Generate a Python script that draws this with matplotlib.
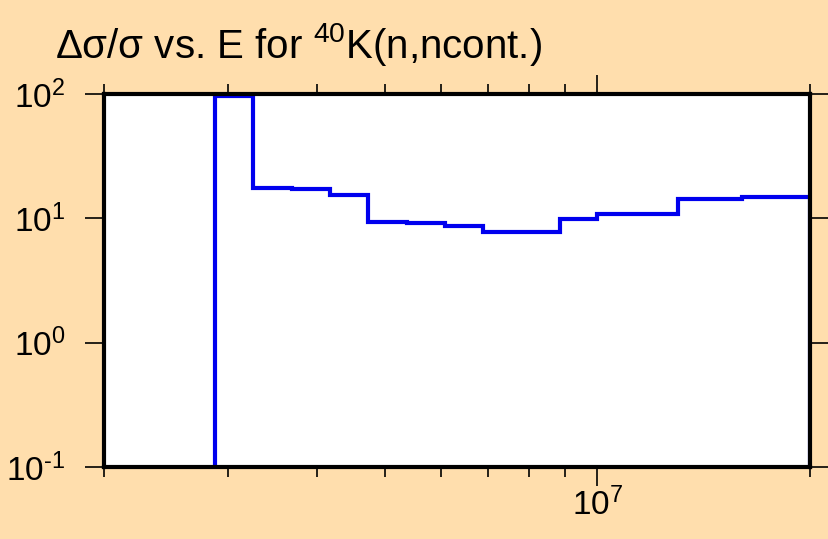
import matplotlib
matplotlib.use("Agg")
import matplotlib.pyplot as plt
import numpy as np
from matplotlib.ticker import LogLocator, NullFormatter, FuncFormatter

plt.rcParams['font.family'] = ['Liberation Sans', 'DejaVu Sans']
plt.rcParams['mathtext.fontset'] = 'custom'
plt.rcParams['mathtext.rm'] = 'Liberation Sans'
plt.rcParams['mathtext.it'] = 'Liberation Sans'

# group boundaries (eV) and relative uncertainty (%)
edges = [2.87e6, 3.25e6, 3.69e6, 4.18e6, 4.73e6, 5.37e6, 6.08e6, 6.89e6,
         7.77e6, 8.85e6, 1.0e7, 1.1e7, 1.2e7, 1.3e7, 1.6e7, 2.0e7]
# first group is off scale (drawn along the top frame)
rel_err = [96.0, 17.5, 17.2, 15.4, 9.3, 9.2, 8.75, 7.8,
           7.8, 9.8, 10.9, 10.9, 10.9, 14.3, 14.8]


def pow10(v, pos):
    e = int(round(np.log10(v)))
    s = str(e).replace('-', r'\text{-}')
    return r'$\mathdefault{10^{%s}}$' % s


bg = '#FFDEAD'
fig = plt.figure(figsize=(8.29, 5.39), dpi=100, facecolor=bg)
ax = fig.add_axes([104/829, 1-467/539, (810-104)/829, (467-94)/539])
ax.set_facecolor('white')

ax.stairs(rel_err, edges, baseline=1e-3, color='#0000EE', linewidth=3)

ax.set_xscale('log')
ax.set_yscale('log')
ax.set_xlim(2e6, 2e7)
ax.set_ylim(0.1, 100)

for s in ax.spines.values():
    s.set_linewidth(3)

ax.xaxis.set_major_locator(LogLocator(base=10))
ax.xaxis.set_minor_locator(LogLocator(base=10, subs=range(2, 10)))
ax.xaxis.set_major_formatter(FuncFormatter(pow10))
ax.xaxis.set_minor_formatter(NullFormatter())
ax.yaxis.set_major_locator(LogLocator(base=10))
ax.yaxis.set_minor_locator(LogLocator(base=10, subs=[]))
ax.yaxis.set_major_formatter(FuncFormatter(pow10))

ax.tick_params(axis='x', which='major', direction='out', length=14, width=1.2,
               top=True, bottom=True, labelsize=24, pad=1)
ax.tick_params(axis='x', which='minor', direction='out', length=7, width=1.2,
               top=True, bottom=True)
ax.tick_params(axis='y', which='major', direction='out', length=14, width=1.2,
               left=True, right=True, labelsize=24, pad=14)

fig.text(55/829, 1-45/539, r'$\Delta\sigma/\sigma$ vs. E for $^{40}$K(n,ncont.)',
         fontsize=29, ha='left', va='center')

fig.savefig('out.png', dpi=100, facecolor=bg)
